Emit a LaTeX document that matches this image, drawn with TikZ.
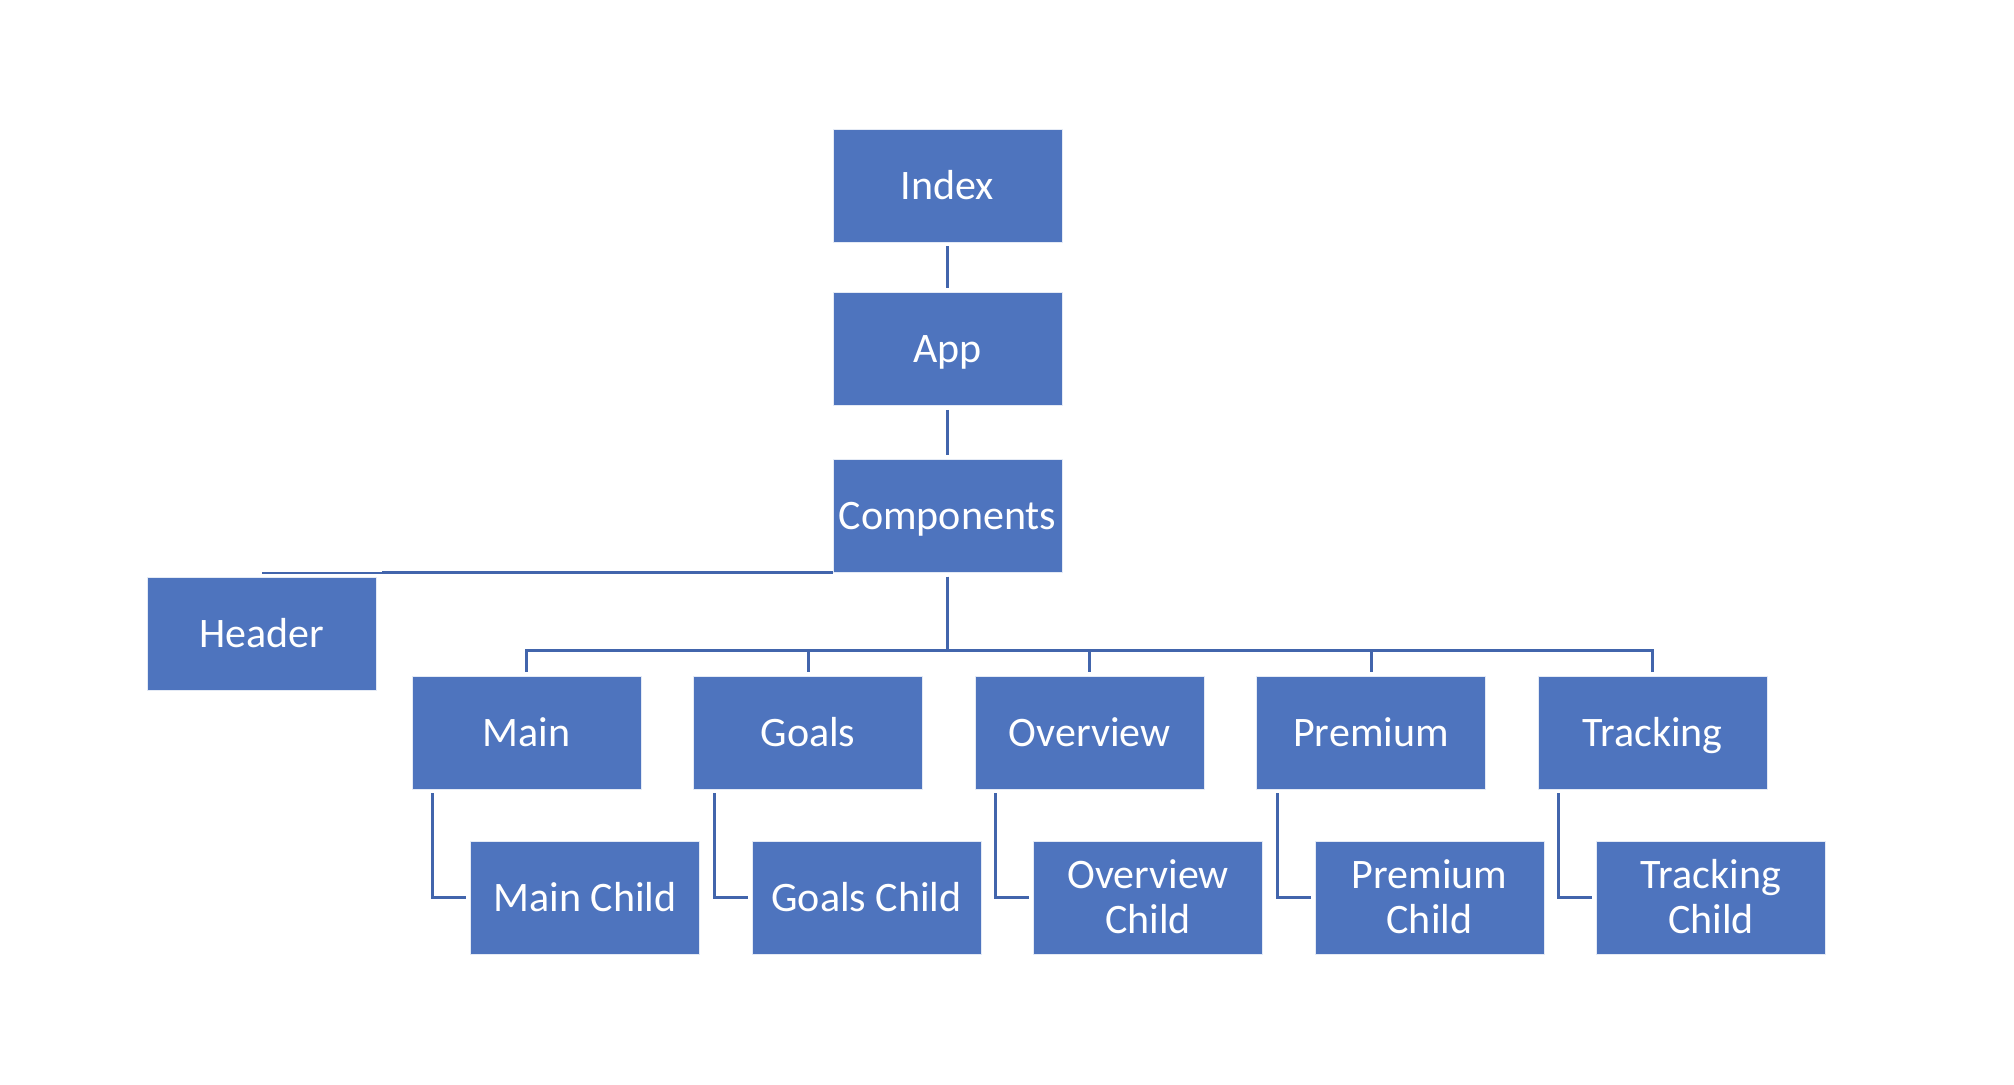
\documentclass[tikz,border=0pt]{standalone}
\usepackage{fontspec}
\setmainfont{Carlito}
\definecolor{boxblue}{RGB}{78,116,190}
\definecolor{lineblue}{RGB}{66,101,172}
\tikzset{
  block/.style={rectangle, fill=boxblue, draw=white!85!boxblue, line width=0.4pt,
    minimum width=114.5pt, minimum height=56.5pt, inner sep=2pt, text=white,
    align=center, font=\fontsize{21}{22.5}\selectfont,
    text height=13.5pt, text depth=0pt},
  twoline/.style={text height=36pt},
  link/.style={lineblue, line width=1.5pt, shorten <=2pt, shorten >=2pt}
}
\begin{document}
\begin{tikzpicture}[x=0.5pt,y=-0.5pt]
\useasboundingbox (0,0) rectangle (2014,1084);
% top of the tree
\node[block] (index) at (947.5,185.5) {Index};
\node[block] (app) at (947.5,349) {App};
\node[block] (comp) at (947.5,516) {Components};
\node[block] (header) at (262,633.5) {Header};
\coordinate (bus) at (947.5,650);
% second row and children
\node[block] (main) at (526.5,732.5) {Main};
\node[block] (goals) at (808,732.5) {Goals};
\node[block] (overview) at (1089.5,732.5) {Overview};
\node[block] (premium) at (1371,732.5) {Premium};
\node[block] (tracking) at (1652.5,732.5) {Tracking};
\node[block] (mainchild) at (585,897.5) {Main Child};
\node[block] (goalschild) at (866.5,897.5) {Goals Child};
\node[block,twoline] (overviewchild) at (1148,897.5) {Overview\\Child};
\node[block,twoline] (premiumchild) at (1429.5,897.5) {Premium\\Child};
\node[block,twoline] (trackingchild) at (1711,897.5) {Tracking\\Child};
% connectors
\draw[link] (index) -- (app);
\draw[link] (app) -- (comp);
\draw[lineblue, line width=0.6pt] (header.north |- comp.south) -- ++(120,0) coordinate (hjoin);
\draw[lineblue, line width=1.5pt] (hjoin) -- (comp.south west);
\foreach \n in {main,goals,overview,premium,tracking} {
  \draw[link] (comp.south) -- (comp.south |- bus) -| (\n.north);
  \draw[link] ([xshift=10.5pt]\n.south west) |- (\n child.west);
}
\end{tikzpicture}
\end{document}
